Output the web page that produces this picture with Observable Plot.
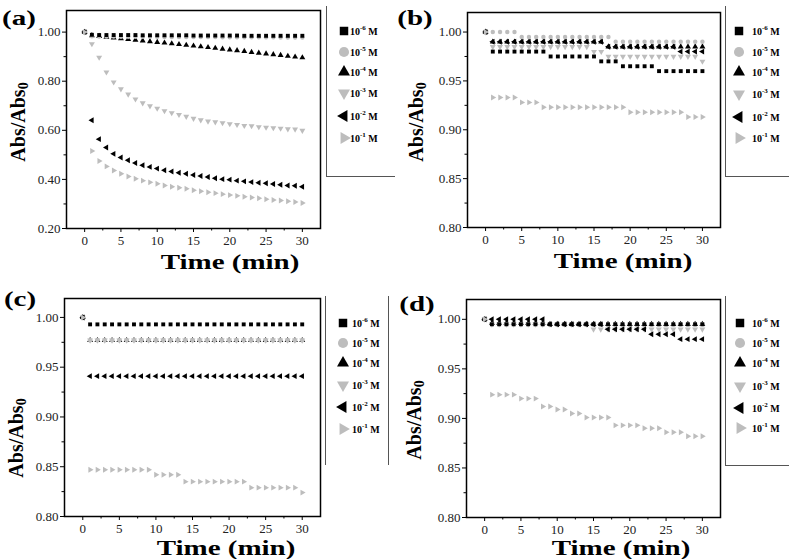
<!DOCTYPE html>
<html>
<head>
<meta charset="utf-8">
<script src="https://cdn.jsdelivr.net/npm/d3@7"></script>
<script src="https://cdn.jsdelivr.net/npm/@observablehq/plot@0.6"></script>
<style>
  html, body { margin: 0; padding: 0; background: #fff; }
  #root { position: relative; width: 789px; height: 559px; overflow: hidden; font-family: "Liberation Serif", "Times New Roman", serif; }
  .panel { position: absolute; width: 394px; height: 279px; }
  .panel > svg { position: absolute; left: 0; top: 0; }
  .ptag { position: absolute; font-weight: bold; font-size: 20px; line-height: 1; white-space: nowrap; transform: translate(-50%, -50%) scaleX(1.45); color: #000; }
  .xtitle { position: absolute; font-weight: bold; font-size: 21px; line-height: 1; white-space: nowrap; transform: translate(-50%, -50%) scaleX(1.38); color: #000; }
  .ytitle { position: absolute; font-weight: bold; font-size: 20px; line-height: 1; white-space: nowrap; transform: translate(-50%, -50%) rotate(-90deg) scaleY(1.1); color: #000; }
  .ytitle sub { font-size: 14px; vertical-align: -3px; line-height: 0; }
  .lbox { position: absolute; border-left: 1px solid #555; }
  .lsvg { position: absolute; left: 0; top: 0; overflow: visible; }
  .ltext { position: absolute; font-weight: bold; font-size: 10px; line-height: 1; white-space: nowrap; transform: translateY(-40%); color: #000; }
  .ltext sup { font-size: 7px; vertical-align: 5px; line-height: 0; }
</style>
</head>
<body>
<div id="root"></div>
<script>
// ---------- data ----------
const time = [0,1,2,3,4,5,6,7,8,9,10,11,12,13,14,15,16,17,18,19,20,21,22,23,24,25,26,27,28,29,30];
const concExp = ["-6","-5","-4","-3","-2","-1"];
const seriesColors = ["#000000","#bdbdbd","#000000","#bdbdbd","#000000","#bdbdbd"];
const seriesShapes = ["square","circle","up","down","left","right"];
const drawOrder = [2,1,3,0,4,5];
const panelTags = ["(a)","(b)","(c)","(d)"];
const xTicks = [0,5,10,15,20,25,30];
const xMinorTicks = [2.5,7.5,12.5,17.5,22.5,27.5];
const yTicksA = [0.20,0.40,0.60,0.80,1.00];
const yMinorA = [0.30,0.50,0.70,0.90];
const yTicksB = [0.80,0.85,0.90,0.95,1.00];
const yMinorB = [0.825,0.875,0.925,0.975];

// panel (a)
const a_e6 = [1.000,0.989,0.988,0.988,0.988,0.988,0.988,0.988,0.987,0.987,0.987,0.987,0.987,0.987,0.987,0.986,0.986,0.986,0.986,0.986,0.986,0.986,0.985,0.985,0.985,0.985,0.985,0.985,0.985,0.985,0.985];
const a_e5 = [1.000,0.983,0.982,0.982,0.982,0.981,0.981,0.981,0.981,0.981,0.981,0.980,0.980,0.980,0.980,0.980,0.980,0.980,0.980,0.979,0.979,0.979,0.979,0.979,0.979,0.979,0.979,0.978,0.978,0.978,0.978];
const a_e4 = [1.000,0.986,0.983,0.980,0.977,0.974,0.971,0.968,0.965,0.962,0.959,0.956,0.953,0.950,0.947,0.944,0.941,0.938,0.935,0.931,0.928,0.925,0.922,0.918,0.915,0.912,0.909,0.906,0.902,0.899,0.896];
const a_e3 = [1.000,0.952,0.897,0.837,0.796,0.768,0.747,0.727,0.711,0.699,0.689,0.679,0.671,0.664,0.656,0.648,0.642,0.637,0.634,0.630,0.626,0.623,0.619,0.618,0.614,0.612,0.610,0.608,0.605,0.604,0.599];
const a_e2 = [1.000,0.641,0.564,0.530,0.504,0.489,0.478,0.467,0.458,0.451,0.444,0.437,0.432,0.427,0.423,0.418,0.414,0.410,0.405,0.401,0.399,0.395,0.392,0.389,0.386,0.384,0.381,0.378,0.375,0.374,0.370];
const a_e1 = [1.000,0.516,0.475,0.453,0.436,0.423,0.412,0.403,0.395,0.388,0.382,0.375,0.370,0.366,0.362,0.356,0.352,0.348,0.344,0.340,0.336,0.333,0.329,0.326,0.323,0.319,0.316,0.314,0.311,0.308,0.304];

// panel (b)
const b_e6 = [1.000,0.980,0.980,0.980,0.980,0.980,0.980,0.980,0.980,0.975,0.975,0.975,0.975,0.975,0.975,0.975,0.970,0.970,0.970,0.965,0.965,0.965,0.965,0.965,0.960,0.960,0.960,0.960,0.960,0.960,0.960];
const b_e5 = [1.000,1.000,1.000,1.000,1.000,0.995,0.995,0.995,0.995,0.995,0.995,0.995,0.995,0.995,0.995,0.995,0.995,0.995,0.990,0.990,0.990,0.990,0.990,0.990,0.990,0.990,0.990,0.990,0.990,0.990,0.990];
const b_e4 = [1.000,0.990,0.990,0.990,0.990,0.990,0.990,0.990,0.990,0.990,0.990,0.990,0.990,0.990,0.990,0.990,0.990,0.985,0.985,0.985,0.985,0.985,0.985,0.985,0.985,0.985,0.985,0.985,0.985,0.985,0.985];
const b_e3 = [1.000,0.985,0.985,0.985,0.985,0.985,0.985,0.985,0.985,0.985,0.985,0.985,0.985,0.985,0.985,0.980,0.980,0.975,0.975,0.975,0.975,0.975,0.975,0.975,0.975,0.975,0.975,0.975,0.975,0.975,0.970];
const b_e2 = [1.000,0.990,0.990,0.990,0.990,0.990,0.990,0.990,0.990,0.990,0.990,0.990,0.990,0.990,0.990,0.990,0.990,0.985,0.985,0.985,0.985,0.985,0.985,0.985,0.985,0.985,0.985,0.980,0.980,0.980,0.980];
const b_e1 = [1.000,0.933,0.933,0.933,0.933,0.928,0.928,0.928,0.923,0.923,0.923,0.923,0.923,0.923,0.923,0.923,0.923,0.923,0.923,0.923,0.918,0.918,0.918,0.918,0.918,0.918,0.918,0.918,0.913,0.913,0.913];

// panel (c)
const c_e6 = [1.000,0.993,0.993,0.993,0.993,0.993,0.993,0.993,0.993,0.993,0.993,0.993,0.993,0.993,0.993,0.993,0.993,0.993,0.993,0.993,0.993,0.993,0.993,0.993,0.993,0.993,0.993,0.993,0.993,0.993,0.993];
const c_e5 = [1.000,0.977,0.977,0.977,0.977,0.977,0.977,0.977,0.977,0.977,0.977,0.977,0.977,0.977,0.977,0.977,0.977,0.977,0.977,0.977,0.977,0.977,0.977,0.977,0.977,0.977,0.977,0.977,0.977,0.977,0.977];
const c_e4 = [1.000,0.977,0.977,0.977,0.977,0.977,0.977,0.977,0.977,0.977,0.977,0.977,0.977,0.977,0.977,0.977,0.977,0.977,0.977,0.977,0.977,0.977,0.977,0.977,0.977,0.977,0.977,0.977,0.977,0.977,0.977];
const c_e3 = [1.000,0.977,0.977,0.977,0.977,0.977,0.977,0.977,0.977,0.977,0.977,0.977,0.977,0.977,0.977,0.977,0.977,0.977,0.977,0.977,0.977,0.977,0.977,0.977,0.977,0.977,0.977,0.977,0.977,0.977,0.977];
const c_e2 = [1.000,0.941,0.941,0.941,0.941,0.941,0.941,0.941,0.941,0.941,0.941,0.941,0.941,0.941,0.941,0.941,0.941,0.941,0.941,0.941,0.941,0.941,0.941,0.941,0.941,0.941,0.941,0.941,0.941,0.941,0.941];
const c_e1 = [1.000,0.847,0.847,0.847,0.847,0.847,0.847,0.847,0.847,0.847,0.842,0.842,0.842,0.842,0.835,0.835,0.835,0.835,0.835,0.835,0.835,0.835,0.835,0.829,0.829,0.829,0.829,0.829,0.829,0.829,0.824];

// panel (d)
const d_e6 = [1.000,0.995,0.995,0.995,0.995,0.995,0.995,0.995,0.995,0.995,0.995,0.995,0.995,0.995,0.995,0.995,0.995,0.995,0.995,0.995,0.995,0.995,0.995,0.995,0.995,0.995,0.995,0.995,0.995,0.995,0.995];
const d_e5 = [1.000,0.995,0.995,0.995,0.995,0.995,0.995,0.995,0.995,0.995,0.995,0.995,0.995,0.995,0.995,0.995,0.995,0.995,0.995,0.995,0.995,0.995,0.995,0.995,0.995,0.995,0.995,0.995,0.995,0.995,0.995];
const d_e4 = [1.000,0.996,0.996,0.996,0.996,0.996,0.996,0.996,0.996,0.995,0.995,0.995,0.995,0.995,0.995,0.995,0.995,0.995,0.995,0.995,0.995,0.995,0.995,0.995,0.995,0.995,0.995,0.995,0.995,0.995,0.995];
const d_e3 = [1.000,0.995,0.995,0.995,0.995,0.995,0.995,0.995,0.995,0.995,0.995,0.995,0.995,0.995,0.995,0.990,0.990,0.990,0.990,0.990,0.990,0.990,0.990,0.990,0.990,0.990,0.990,0.990,0.990,0.990,0.990];
const d_e2 = [1.000,1.000,1.000,1.000,1.000,1.000,1.000,1.000,1.000,0.995,0.995,0.995,0.995,0.995,0.995,0.995,0.995,0.990,0.990,0.990,0.990,0.990,0.990,0.985,0.985,0.985,0.985,0.980,0.980,0.980,0.980];
const d_e1 = [1.000,0.924,0.924,0.924,0.924,0.920,0.920,0.920,0.912,0.912,0.909,0.909,0.905,0.905,0.901,0.901,0.901,0.901,0.893,0.893,0.893,0.893,0.890,0.890,0.890,0.886,0.886,0.886,0.882,0.882,0.882];

// ---------- symbols ----------
function triangleSymbol(dir) {
  return {
    draw(ctx, size) {
      const s3 = Math.sqrt(3);
      const y = -Math.sqrt(size / (s3 * 3));
      let pts = [[0, 2 * y], [-s3 * y, -y], [s3 * y, -y]];
      if (dir === "down") pts = pts.map(([px, py]) => [px, -py]);
      if (dir === "left") pts = pts.map(([px, py]) => [py, px]);
      if (dir === "right") pts = pts.map(([px, py]) => [-py, px]);
      ctx.moveTo(pts[0][0], pts[0][1]);
      ctx.lineTo(pts[1][0], pts[1][1]);
      ctx.lineTo(pts[2][0], pts[2][1]);
      ctx.closePath();
    }
  };
}
const symbolFor = {
  square: d3.symbolSquare,
  circle: d3.symbolCircle,
  up: d3.symbolTriangle,
  down: triangleSymbol("down"),
  left: triangleSymbol("left"),
  right: triangleSymbol("right")
};

// ---------- panels ----------
const panels = [
  { series: [a_e6,a_e5,a_e4,a_e3,a_e2,a_e1], left: 0, top: 0, yDomain: [0.2, 1.088], yTicks: yTicksA, yMinor: yMinorA,
    mL: 66, mR: 10, mT: 10, mB: 47, tag: [19, 18], xt: [230, 262], yt: [17, 122],
    box: { x: 326, y: 6, w: 68, h: 170, bottom: true, right: false }, lx: 344, tx: 350, rows: [31,52,72,93,116,138] },
  { series: [b_e6,b_e5,b_e4,b_e3,b_e2,b_e1], left: 395, top: 0, yDomain: [0.8, 1.02], yTicks: yTicksB, yMinor: yMinorB,
    mL: 72, mR: 5, mT: 12, mB: 48, tag: [20, 18], xt: [228, 261], yt: [20, 122],
    box: { x: 330, y: 6, w: 64, h: 170, bottom: true, right: false }, lx: 344, tx: 357, rows: [31,52,72,94,117,138] },
  { series: [c_e6,c_e5,c_e4,c_e3,c_e2,c_e1], left: 0, top: 280, yDomain: [0.8, 1.019], yTicks: yTicksB, yMinor: yMinorB,
    mL: 64, mR: 10, mT: 18, mB: 39, tag: [20, 19], xt: [226, 268], yt: [15, 158],
    box: { x: 325, y: 16, w: 62, h: 169, bottom: false, right: true }, lx: 343, tx: 352, rows: [43,63,83,105,127,149] },
  { series: [d_e6,d_e5,d_e4,d_e3,d_e2,d_e1], left: 395, top: 280, yDomain: [0.8, 1.02], yTicks: yTicksB, yMinor: yMinorB,
    mL: 71, mR: 5, mT: 19, mB: 38, tag: [22, 24], xt: [226, 268], yt: [18, 140],
    box: { x: 330, y: 16, w: 64, h: 169, bottom: true, right: false }, lx: 345, tx: 357, rows: [43,63,83,106,128,148] }
];

const root = document.getElementById("root");

panels.forEach((p, pi) => {
  const div = document.createElement("div");
  div.className = "panel";
  div.style.left = p.left + "px";
  div.style.top = p.top + "px";
  root.appendChild(div);

  const rows = [];
  p.series.forEach((arr, si) => arr.forEach((v, j) => rows.push({ t: time[j], v, s: si })));

  const chart = Plot.plot({
    width: 330,
    height: 275,
    marginLeft: p.mL, marginRight: p.mR, marginTop: p.mT, marginBottom: p.mB,
    x: { domain: [-2.5, 32.5] },
    y: { domain: p.yDomain },
    style: { fontFamily: "'Liberation Serif', 'Times New Roman', serif", fontSize: "13px", background: "transparent", color: "#000", overflow: "visible" },
    marks: [
      Plot.axisX({ ticks: xTicks, tickSize: 4, tickPadding: 3, label: null, tickFormat: d => String(d), fill: "#222" }),
      Plot.axisX({ ticks: xMinorTicks, tickSize: 2.5, fill: "none", label: null }),
      Plot.axisY({ ticks: p.yTicks, tickSize: 4, tickPadding: 2, label: null, tickFormat: d => d.toFixed(2), fill: "#222" }),
      Plot.axisY({ ticks: p.yMinor, tickSize: 2.5, fill: "none", label: null }),
      ...drawOrder.map(si => Plot.dot(rows.filter(d => d.s === si), {
        x: "t", y: "v", symbol: symbolFor[seriesShapes[si]], fill: seriesColors[si], r: 2.2
      })),
      Plot.frame({ stroke: "#000", strokeWidth: 1.5 })
    ]
  });
  div.appendChild(chart);

  // panel tag
  const tag = document.createElement("div");
  tag.className = "ptag";
  tag.textContent = panelTags[pi];
  tag.style.left = p.tag[0] + "px";
  tag.style.top = p.tag[1] + "px";
  div.appendChild(tag);

  // axis titles
  const xt = document.createElement("div");
  xt.className = "xtitle";
  xt.textContent = "Time (min)";
  xt.style.left = p.xt[0] + "px";
  xt.style.top = p.xt[1] + "px";
  div.appendChild(xt);

  const yt = document.createElement("div");
  yt.className = "ytitle";
  yt.innerHTML = "Abs/Abs<sub>0</sub>";
  yt.style.left = p.yt[0] + "px";
  yt.style.top = p.yt[1] + "px";
  div.appendChild(yt);

  // legend box
  const box = document.createElement("div");
  box.className = "lbox";
  box.style.left = p.box.x + "px";
  box.style.top = p.box.y + "px";
  box.style.width = p.box.w + "px";
  box.style.height = p.box.h + "px";
  if (p.box.bottom) box.style.borderBottom = "1px solid #555";
  if (p.box.right) box.style.borderRight = "1px solid #555";
  div.appendChild(box);

  // legend symbols
  const ns = "http://www.w3.org/2000/svg";
  const lsvg = document.createElementNS(ns, "svg");
  lsvg.setAttribute("class", "lsvg");
  lsvg.setAttribute("width", 394);
  lsvg.setAttribute("height", 279);
  seriesShapes.forEach((shape, si) => {
    const path = document.createElementNS(ns, "path");
    const size = shape === "square" ? 72 : shape === "circle" ? 80 : 62;
    path.setAttribute("d", d3.symbol(symbolFor[shape], size)());
    path.setAttribute("transform", `translate(${p.lx},${p.rows[si]})`);
    path.setAttribute("fill", seriesColors[si]);
    lsvg.appendChild(path);
  });
  div.appendChild(lsvg);

  seriesShapes.forEach((shape, si) => {
    const t = document.createElement("div");
    t.className = "ltext";
    t.innerHTML = `10<sup>${concExp[si]}</sup> M`;
    t.style.left = p.tx + "px";
    t.style.top = p.rows[si] + "px";
    div.appendChild(t);
  });
});
</script>
</body>
</html>
